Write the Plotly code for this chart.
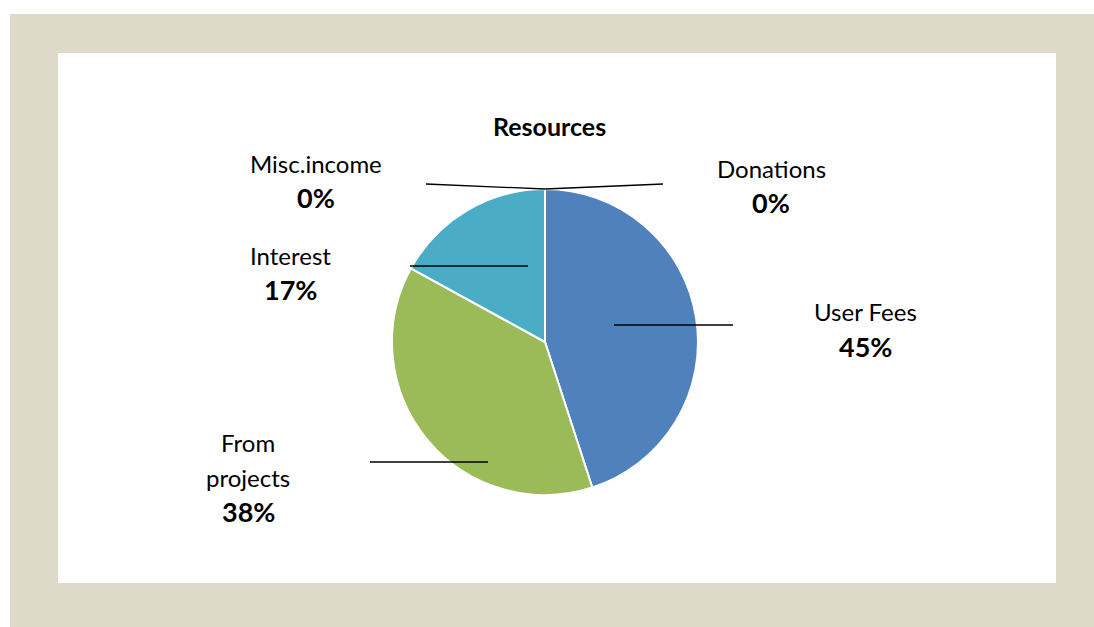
import plotly.graph_objects as go

W, H = 1094, 627

labels = ["Donations", "User Fees", "From projects", "Interest", "Misc.income"]
values = [0, 45, 38, 17, 0]
colors = ["#C0504D", "#4F81BD", "#9BBB59", "#4BACC6", "#8064A2"]

# label text lines and their pixel placement (center x, first line y)
label_lines = [["Donations"], ["User Fees"], ["From", "projects"], ["Interest"], ["Misc.income"]]
label_pos = [(771, 168), (865, 312), (248, 442), (291, 255), (316, 163)]
# leader lines in pixels (x0, y0, x1, y1)
leaders = [(545, 189, 663, 184), (614, 325, 733, 325), (488, 462, 370, 462),
           (528, 266, 410, 266), (545, 189, 426, 184)]

FONT = "Lato, 'Open Sans', sans-serif"


def px(x):
    return x / W


def py(y):
    return 1 - y / H


fig = go.Figure()
fig.add_trace(go.Pie(
    labels=labels, values=values, sort=False, direction="clockwise", rotation=0,
    marker=dict(colors=colors, line=dict(color="white", width=2)),
    textinfo="none", hoverinfo="label+percent", showlegend=False,
    domain=dict(x=[px(392), px(698)], y=[py(495), py(189)]),
))

shapes = [
    dict(type="rect", xref="paper", yref="paper", x0=px(10), x1=1, y0=0, y1=py(14),
         fillcolor="#DFD9C9", line=dict(width=0), layer="below"),
    dict(type="rect", xref="paper", yref="paper", x0=px(58), x1=px(1056), y0=py(583), y1=py(53),
         fillcolor="white", line=dict(width=0), layer="below"),
]
for x0, y0, x1, y1 in leaders:
    shapes.append(dict(type="line", xref="paper", yref="paper", x0=px(x0), y0=py(y0),
                       x1=px(x1), y1=py(y1), line=dict(color="black", width=1.3)))

total = sum(values)
annotations = [dict(text="<b>Resources</b>", x=px(549), y=py(126), xref="paper", yref="paper",
                    xanchor="center", yanchor="middle", showarrow=False,
                    font=dict(size=25, color="black", family=FONT))]
for lines, (cx, cy), v in zip(label_lines, label_pos, values):
    for i, t in enumerate(lines):
        annotations.append(dict(text=t, x=px(cx), y=py(cy + 35 * i), xref="paper", yref="paper",
                                xanchor="center", yanchor="middle", showarrow=False,
                                font=dict(size=24, color="black", family=FONT)))
    annotations.append(dict(text=f"<b>{round(v / total * 100)}%</b>", x=px(cx),
                            y=py(cy + 35 * len(lines) - 1), xref="paper", yref="paper",
                            xanchor="center", yanchor="middle", showarrow=False,
                            font=dict(size=27, color="black", family=FONT)))

fig.update_layout(
    width=W, height=H, margin=dict(l=0, r=0, t=0, b=0),
    paper_bgcolor="white", plot_bgcolor="white",
    shapes=shapes, annotations=annotations,
)

fig.write_html("out.html", config={"displayModeBar": False},
               post_script="document.body.style.margin='0';")
